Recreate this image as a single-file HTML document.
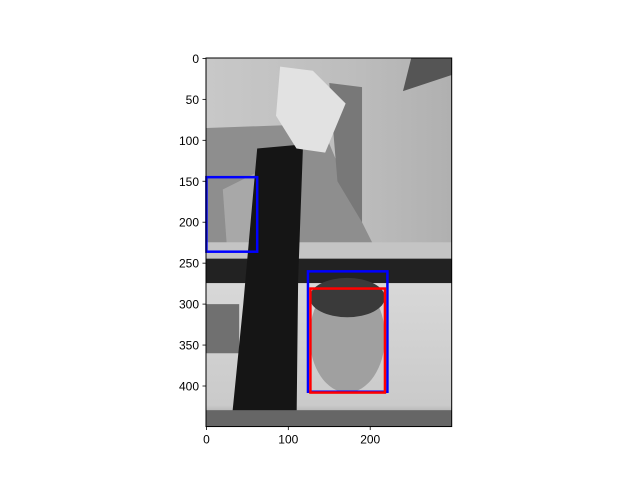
<!DOCTYPE html>
<html><head><meta charset="utf-8"><style>
body{margin:0;background:#fff;}
svg text{font-family:"Liberation Sans","DejaVu Sans",sans-serif;font-size:12px;fill:#000;}
</style></head><body>
<svg id="chart" width="640" height="480" xmlns="http://www.w3.org/2000/svg">
<defs>
<linearGradient id="topg" x1="0" y1="0" x2="1" y2="0"><stop offset="0" stop-color="#c8c8c8"/><stop offset="0.6" stop-color="#bdbdbd"/><stop offset="1" stop-color="#b0b0b0"/></linearGradient>
<linearGradient id="lowg" x1="0" y1="0" x2="0" y2="1"><stop offset="0" stop-color="#d8d8d8"/><stop offset="0.85" stop-color="#cacaca"/><stop offset="1" stop-color="#8a8a8a"/></linearGradient>
<clipPath id="imgclip"><rect x="206" y="58" width="245.7" height="368.7"/></clipPath>
</defs>
<g id="photo" clip-path="url(#imgclip)"></g>
<g id="rects"></g>
<g id="axes"></g>
</svg>
<script>
const imgWidth = 300;
const imgHeight = 450;
const xTicks = [0, 100, 200];
const yTicks = [0, 50, 100, 150, 200, 250, 300, 350, 400];
const boxX0 = [0, 124, 127];
const boxY0 = [145, 260, 281];
const boxX1 = [62, 221, 218];
const boxY1 = [236, 407, 408];
const boxColors = ['#0000ff', '#0000ff', '#ff0000'];
const boxNames = ['detection-box-sign', 'detection-box-face', 'ground-truth-box-face'];

const L=206, T=58, S=0.819;
const sx = x => L + (x + 0.5) * S;
const sy = y => T + (y + 0.5) * S;
const NS='http://www.w3.org/2000/svg';
function mk(tag, attrs, parent){const e=document.createElementNS(NS,tag);for(const k in attrs)e.setAttribute(k,attrs[k]);parent.appendChild(e);return e;}

const ph=document.getElementById('photo');
const shapes=[
 ['rect',{x:0,y:0,w:300,h:250,f:'url(#topg)'}],
 ['poly',{p:'0,85 140,80 190,200 205,230 0,235',f:'#8e8e8e'}],
 ['poly',{p:'20,160 60,140 60,230 25,230',f:'#a8a8a8'}],
 ['poly',{p:'150,30 190,35 190,200 160,150',f:'#787878'}],
 ['poly',{p:'250,0 300,0 300,20 240,40',f:'#555'}],
 ['rect',{x:0,y:225,w:300,h:25,f:'#c4c4c4'}],
 ['rect',{x:0,y:245,w:300,h:30,f:'#222'}],
 ['rect',{x:0,y:275,w:300,h:175,f:'url(#lowg)'}],
 ['poly',{p:'0,300 40,300 40,360 0,360',f:'#707070'}],
 ['poly',{p:'62,110 118,105 112,270 110,450 30,450 45,300',f:'#151515'}],
 ['poly',{p:'90,10 130,15 170,55 145,115 110,110 85,70',f:'#e2e2e2'}],
 ['ellipse',{cx:172,cy:340,rx:46,ry:68,f:'#a0a0a0'}],
 ['ellipse',{cx:172,cy:292,rx:46,ry:24,f:'#3a3a3a'}],
 ['rect',{x:0,y:430,w:300,h:20,f:'#666'}],
];
for(const [t,a] of shapes){
 let e;
 if(t==='rect') e=mk('rect',{x:sx(a.x-0.5),y:sy(a.y-0.5),width:a.w*S,height:a.h*S,fill:a.f},ph);
 else if(t==='ellipse') e=mk('ellipse',{cx:sx(a.cx),cy:sy(a.cy),rx:a.rx*S,ry:a.ry*S,fill:a.f},ph);
 else e=mk('polygon',{points:a.p.split(' ').map(q=>{const [x,y]=q.split(',').map(Number);return sx(x)+','+sy(y);}).join(' '),fill:a.f},ph);
 
 
}

const rg=document.getElementById('rects');
for(let i=0;i<boxX0.length;i++){
 const r=mk('rect',{x:sx(boxX0[i]),y:sy(boxY0[i]),width:(boxX1[i]-boxX0[i])*S,height:(boxY1[i]-boxY0[i])*S,fill:'none',stroke:boxColors[i],'stroke-width':2.5},rg);
 
 
}

const ax=document.getElementById('axes');
const fr=mk('rect',{x:L,y:T,width:imgWidth*S,height:imgHeight*S,fill:'none',stroke:'#000','stroke-width':1},ax);


for(const v of xTicks){
 const x=sx(v), yb=T+imgHeight*S;
 mk('line',{x1:x,y1:yb,x2:x,y2:yb+3.5,stroke:'#000','stroke-width':0.8},ax);
 const t=mk('text',{x:x,y:yb+17,'text-anchor':'middle'},ax);
 t.textContent=v;
 
 
}
for(const v of yTicks){
 const y=sy(v);
 mk('line',{x1:L,y1:y,x2:L-3.5,y2:y,stroke:'#000','stroke-width':0.8},ax);
 const t=mk('text',{x:L-7,y:y+4.5,'text-anchor':'end'},ax);
 t.textContent=v;
 
 
}
</script>
</body></html>
